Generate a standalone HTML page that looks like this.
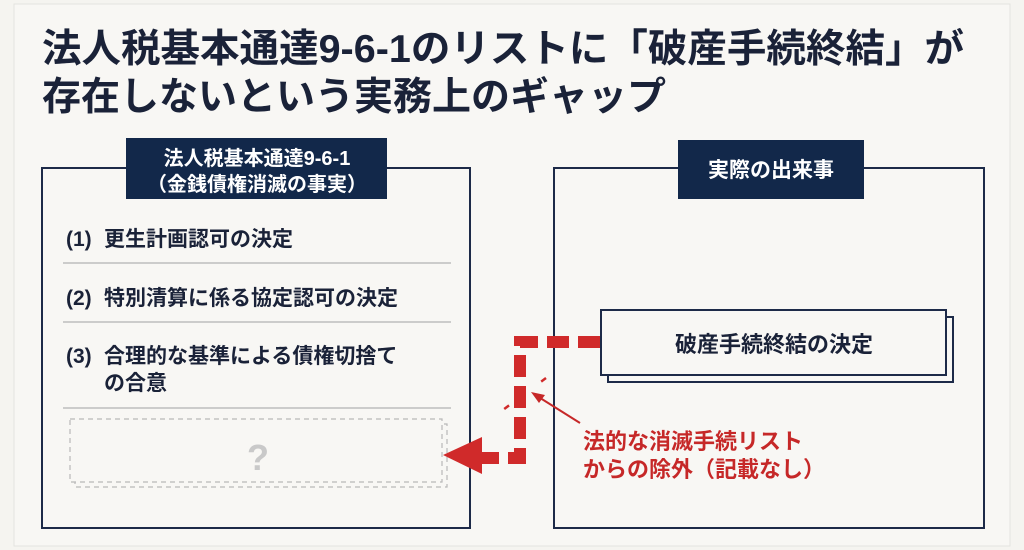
<!DOCTYPE html>
<html><head><meta charset="utf-8"><style>
html,body{margin:0;padding:0;background:#f5f4f0;}
svg{display:block;font-family:"Liberation Sans","Noto Sans CJK JP",sans-serif;}
</style></head><body>
<svg width="1024" height="550" viewBox="0 0 1024 550" xmlns="http://www.w3.org/2000/svg">
<rect x="0" y="0" width="1024" height="550" fill="#f5f4f0"/>
<rect x="14" y="4" width="996" height="542" fill="#f8f7f4" stroke="#e4e3df" stroke-width="1"/>
<g fill="#1a2238" font-weight="bold" font-size="39">
<text x="42" y="62" textLength="922" lengthAdjust="spacingAndGlyphs">法人税基本通達9-6-1のリストに「破産手続終結」が</text>
<text x="42" y="110">存在しないという実務上のギャップ</text>
</g>
<!-- left box -->
<rect x="42" y="168" width="428" height="360" fill="none" stroke="#1d2a48" stroke-width="2"/>
<rect x="126" y="138" width="261" height="61" fill="#12284a"/>
<g fill="#fff" font-weight="bold" font-size="20" text-anchor="middle">
<text x="257" y="165">法人税基本通達9-6-1</text>
<text x="257" y="191">（金銭債権消滅の事実）</text>
</g>
<g fill="#1a2238" font-weight="bold" font-size="21">
<text x="66" y="246">(1)<tspan x="104">更生計画認可の決定</tspan></text>
<text x="66" y="305">(2)<tspan x="104">特別清算に係る協定認可の決定</tspan></text>
<text x="66" y="363">(3)<tspan x="104">合理的な基準による債権切捨て</tspan></text>
<text x="104" y="390">の合意</text>
</g>
<g stroke="#bdbdbd" stroke-width="1.5">
<line x1="63" y1="263" x2="451" y2="263"/>
<line x1="63" y1="322" x2="451" y2="322"/>
<line x1="63" y1="408" x2="451" y2="408"/>
</g>
<g fill="none" stroke="#b8b8b8" stroke-width="1.2" stroke-dasharray="5,4">
<rect x="75" y="424" width="372" height="63"/>
<rect x="70" y="419" width="372" height="63" fill="#f8f7f4"/>
</g>
<text x="258" y="470" fill="#c9c9c9" font-weight="bold" font-size="36" text-anchor="middle">?</text>
<!-- right box -->
<rect x="554" y="168" width="430" height="360" fill="none" stroke="#1d2a48" stroke-width="2"/>
<rect x="678" y="140" width="186" height="59" fill="#12284a"/>
<text x="771" y="177" fill="#fff" font-weight="bold" font-size="21" text-anchor="middle">実際の出来事</text>
<rect x="608" y="317" width="345" height="65" fill="#f8f7f4" stroke="#1d2a48" stroke-width="2"/>
<rect x="601" y="310" width="345" height="65" fill="#f8f7f4" stroke="#1d2a48" stroke-width="2"/>
<text x="774" y="352" fill="#1a2238" font-weight="bold" font-size="22" text-anchor="middle">破産手続終結の決定</text>
<!-- red dashed path -->
<polyline points="600,342 520,342 520,458 478,458" fill="none" stroke="#d02a2a" stroke-width="12" stroke-dasharray="22,9"/>
<polygon points="443,455 482,437 482,474" fill="#d02a2a"/>
<line x1="546" y1="378" x2="492" y2="418" stroke="#d02a2a" stroke-width="2.5" stroke-dasharray="6,40"/>
<line x1="580" y1="423" x2="537" y2="396" stroke="#c62828" stroke-width="2"/>
<polygon points="531,392 545,395 539,403" fill="#c62828"/>
<g fill="#c62828" font-weight="bold" font-size="22">
<text x="583" y="449">法的な消滅手続リスト</text>
<text x="583" y="477">からの除外（記載なし）</text>
</g>
</svg>
</body></html>
